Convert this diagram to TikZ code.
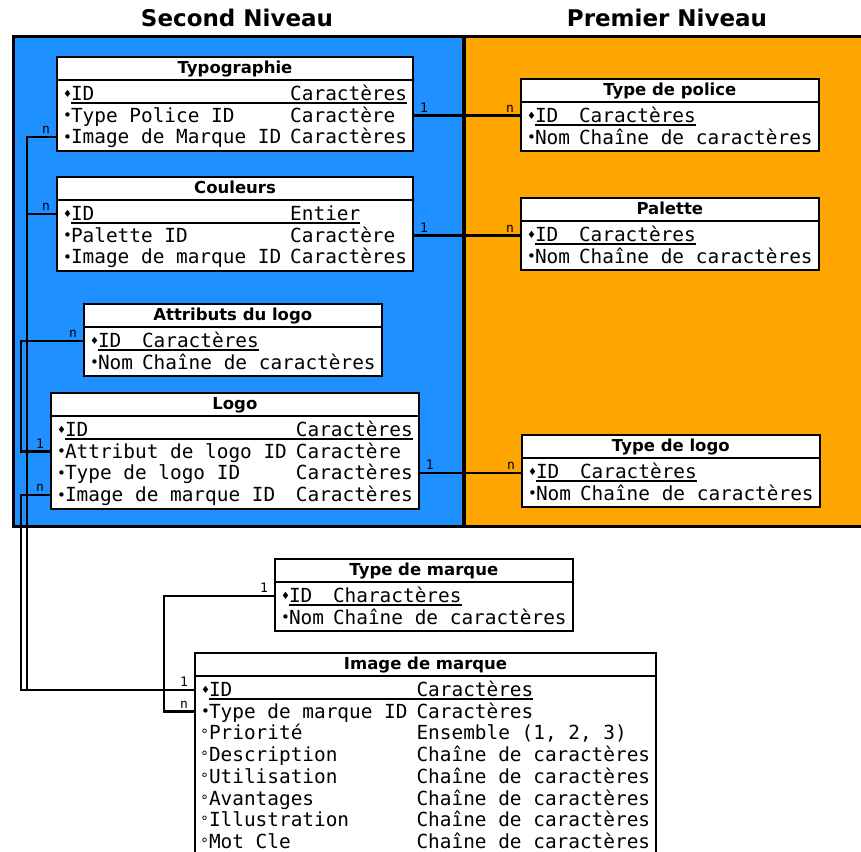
\documentclass[tikz,border=0pt]{standalone}
\usepackage{fontspec}
\usepackage{array}
\setmainfont{DejaVu Sans}
\setmonofont{DejaVu Sans Mono}
\usetikzlibrary{shapes.multipart,calc}
\definecolor{second}{HTML}{1E90FF}
\definecolor{premier}{HTML}{FFA500}
\newlength{\keywd}
\newlength{\pkwd}
\newcommand{\hstrut}{\rule[-4pt]{0pt}{17pt}}
\newcommand{\pkmark}{\makebox[8pt][l]{\raisebox{3pt}{\fontsize{10}{10}\selectfont\rmfamily ♦}}}
\newcommand{\fkmark}{\makebox[8pt][l]{\raisebox{1.5pt}{\fontsize{15}{15}\selectfont\rmfamily •}}}
\newcommand{\opmark}{\makebox[8pt][l]{\fontsize{14}{14}\selectfont\rmfamily °}}
\newcommand{\fields}[2]{\mdseries\ttfamily\fontsize{19.4}{14}\selectfont
  \setlength{\extrarowheight}{7.7pt}%
  \settowidth{\keywd}{#1}\addtolength{\keywd}{9pt}%
  \begin{tabular}{@{}l@{}l@{\hskip 9pt}l@{}}#2\end{tabular}}
\newcommand{\pk}[2]{\pkmark & \multicolumn{2}{@{}l@{}}{\settowidth{\pkwd}{\makebox[\keywd][l]{#1}#2}%
  \rlap{\rule[-3pt]{\pkwd}{1.6pt}}\makebox[\keywd][l]{#1}#2}}
\newcommand{\fk}[2]{\fkmark & #1 & #2}
\newcommand{\op}[2]{\opmark & #1 & #2}
\tikzset{
  tbl/.style={rectangle split,rectangle split parts=2,rectangle split part align={center,left},
    draw=black,line width=2pt,fill=white,inner xsep=6pt,inner ysep=2pt,anchor=north west,
    font=\fontsize{16.5}{19}\selectfont\bfseries,execute at begin node=\hstrut},
  link/.style={draw=black,line width=2.2pt},
  lbl/.style={font=\fontsize{13}{13}\selectfont\ttfamily,inner sep=1pt},
  lr/.style={lbl,anchor=south west,xshift=4pt,yshift=1pt},
  ll/.style={lbl,anchor=south east,xshift=-4pt,yshift=1pt},
  title/.style={font=\fontsize{23}{23}\selectfont\bfseries},
}
\begin{document}
\begin{tikzpicture}[x=1pt,y=-1pt]
  \useasboundingbox (0,0) rectangle (861,851);
  % niveaux
  \fill[second] (13,37) rectangle (464,526);
  \fill[premier] (464,37) rectangle (890,526);
  \draw[line width=3pt] (13,37) rectangle (890,526);
  \draw[line width=4pt] (464,37) -- (464,526);
  \node[title] (second) at (237,18) {Second Niveau};
  \node[title] (premier) at (667,18) {Premier Niveau};
  % second niveau
  \node[tbl] (typo) at (56,56) {Typographie\nodepart{two}\fields{Image de Marque ID}{%
    \pk{ID}{Caractères}\\ \fk{Type Police ID}{Caractère}\\ \fk{Image de Marque ID}{Caractères}}};
  \node[tbl] (coul) at (56,176) {Couleurs\nodepart{two}\fields{Image de marque ID}{%
    \pk{ID}{Entier}\\ \fk{Palette ID}{Caractère}\\ \fk{Image de marque ID}{Caractères}}};
  \node[tbl] (attr) at (83,303) {Attributs du logo\nodepart{two}\fields{Nom}{%
    \pk{ID}{Caractères}\\ \fk{Nom}{Chaîne de caractères}}};
  \node[tbl] (logo) at (50,392) {Logo\nodepart{two}\fields{Attribut de logo ID}{%
    \pk{ID}{Caractères}\\ \fk{Attribut de logo ID}{Caractère}\\ \fk{Type de logo ID}{Caractères}\\
    \fk{Image de marque ID}{Caractères}}};
  % premier niveau
  \node[tbl] (tpol) at (520,78) {Type de police\nodepart{two}\fields{Nom}{%
    \pk{ID}{Caractères}\\ \fk{Nom}{Chaîne de caractères}}};
  \node[tbl] (pal) at (520,197) {Palette\nodepart{two}\fields{Nom}{%
    \pk{ID}{Caractères}\\ \fk{Nom}{Chaîne de caractères}}};
  \node[tbl] (tlogo) at (521,434) {Type de logo\nodepart{two}\fields{Nom}{%
    \pk{ID}{Caractères}\\ \fk{Nom}{Chaîne de caractères}}};
  % hors niveaux
  \node[tbl] (tmar) at (274,558) {Type de marque\nodepart{two}\fields{Nom}{%
    \pk{ID}{Charactères}\\ \fk{Nom}{Chaîne de caractères}}};
  \node[tbl] (imgm) at (194,652) {Image de marque\nodepart{two}\fields{Type de marque ID}{%
    \pk{ID}{Caractères}\\ \fk{Type de marque ID}{Caractères}\\ \op{Priorité}{Ensemble (1, 2, 3)}\\
    \op{Description}{Chaîne de caractères}\\ \op{Utilisation}{Chaîne de caractères}\\
    \op{Avantages}{Chaîne de caractères}\\ \op{Illustration}{Chaîne de caractères}\\
    \op{Mot Cle}{Chaîne de caractères}}};
  % relations (rangs : 14, 35.5, 57, 79 sous l'en-tete)
  \coordinate (busA) at (27,0);
  \coordinate (busB) at (21,0);
  \coordinate (busC) at (164,0);
  \coordinate (typo-2) at ($(typo.text split east)+(0,35.5)$);
  \coordinate (coul-2) at ($(coul.text split east)+(0,35.5)$);
  \coordinate (logo-3) at ($(logo.text split east)+(0,57)$);
  \coordinate (typo-3) at ($(typo.text split west)+(0,57)$);
  \coordinate (coul-1) at ($(coul.text split west)+(0,14)$);
  \coordinate (attr-1) at ($(attr.text split west)+(0,14)$);
  \coordinate (logo-2) at ($(logo.text split west)+(0,35.5)$);
  \coordinate (logo-4) at ($(logo.text split west)+(0,79)$);
  \coordinate (tmar-1) at ($(tmar.text split west)+(0,14)$);
  \coordinate (imgm-1) at ($(imgm.text split west)+(0,14)$);
  \coordinate (imgm-2) at ($(imgm.text split west)+(0,35.5)$);
  \draw[link] (typo-2) node[lr]{1} -- (typo-2 -| tpol.west) node[ll]{n};
  \draw[link] (coul-2) node[lr]{1} -- (coul-2 -| pal.west) node[ll]{n};
  \draw[link] (logo-3) node[lr]{1} -- (logo-3 -| tlogo.west) node[ll]{n};
  \draw[link] (typo-3) node[ll]{n} -- (typo-3 -| busA) |- (imgm-1) node[ll]{1};
  \draw[link] (coul-1) node[ll]{n} -- (coul-1 -| busA);
  \draw[link] (attr-1) node[ll]{n} -- (attr-1 -| busB) |- (logo-2) node[ll]{1};
  \draw[link] (logo-4) node[ll]{n} -- (logo-4 -| busB) |- (imgm-1);
  \draw[link] (tmar-1) node[ll]{1} -- (tmar-1 -| busC) |- (imgm-2) node[ll]{n};
\end{tikzpicture}
\end{document}
